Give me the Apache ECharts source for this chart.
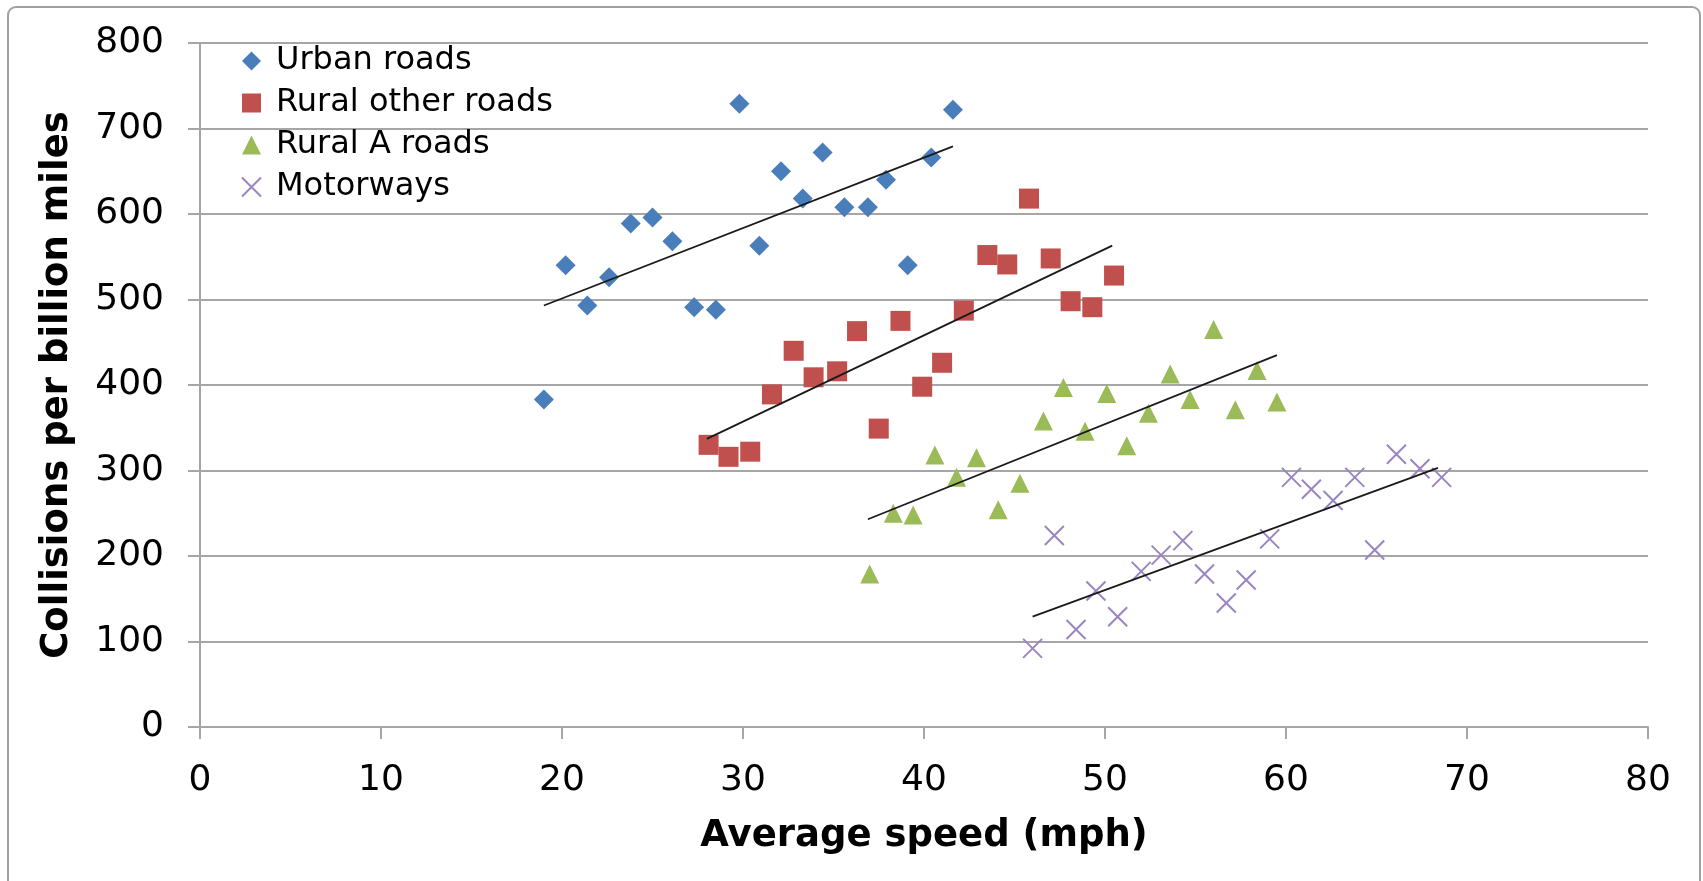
<!DOCTYPE html>
<html>
<head>
<meta charset="utf-8">
<script src="https://cdn.jsdelivr.net/npm/echarts@6/dist/echarts.min.js"></script>
<style>
  html, body { margin: 0; padding: 0; background: #fff; }
  #chart { width: 1703px; height: 881px; }
</style>
</head>
<body>
<div id="chart"></div>
<script>
// speeds (mph) and collision rates (per billion miles)
var urbanSpeed = [19.0, 20.2, 21.4, 22.6, 23.8, 25.0, 26.1, 27.3, 28.5, 29.8, 30.9, 32.1, 33.3, 34.4, 35.6, 36.9, 37.9, 39.1, 40.4, 41.6];
var urbanRate = [383, 540, 493, 526, 589, 596, 568, 491, 488, 729, 563, 650, 618, 672, 608, 608, 640, 540, 666, 722];

var ruralOtherSpeed = [28.1, 29.2, 30.4, 31.6, 32.8, 33.9, 35.2, 36.3, 37.5, 38.7, 39.9, 41.0, 42.2, 43.5, 44.6, 45.8, 47.0, 48.1, 49.3, 50.5];
var ruralOtherRate = [330, 316, 322, 389, 440, 409, 416, 463, 349, 475, 398, 426, 487, 552, 541, 618, 548, 498, 491, 528];

var ruralASpeed = [37.0, 38.3, 39.4, 40.6, 41.8, 42.9, 44.1, 45.3, 46.6, 47.7, 48.9, 50.1, 51.2, 52.4, 53.6, 54.7, 56.0, 57.2, 58.4, 59.5];
var ruralARate = [179, 250, 248, 318, 292, 315, 254, 285, 358, 397, 346, 390, 329, 367, 413, 383, 465, 371, 417, 380];

var motorwaySpeed = [46.0, 47.2, 48.4, 49.5, 50.7, 52.0, 53.1, 54.3, 55.5, 56.7, 57.8, 59.1, 60.3, 61.4, 62.6, 63.8, 64.9, 66.1, 67.4, 68.6];
var motorwayRate = [92, 224, 114, 159, 129, 182, 201, 218, 179, 145, 172, 220, 292, 278, 265, 292, 207, 319, 302, 292];

// trend line end points [speed, rate]
var urbanTrend = [[19.0, 493], [41.6, 679]];
var ruralOtherTrend = [[28.0, 337], [50.4, 563]];
var ruralATrend = [[36.9, 243], [59.5, 435]];
var motorwayTrend = [[46.0, 129], [68.4, 303]];

var seriesNames = ["Urban roads", "Rural other roads", "Rural A roads", "Motorways"];

function zip(xs, ys) {
  return xs.map(function (x, i) { return [x, ys[i]]; });
}

var font = "DejaVu Sans";
var gridColor = "#a6a6a6";

function trend(name, data) {
  return {
    name: name,
    type: "line",
    data: data,
    symbol: "none",
    z: 5,
    lineStyle: { color: "#1a1a1a", width: 1.8 },
    silent: true,
  };
}

var option = {
  animation: false,
  backgroundColor: "#fff",
  graphic: [
    {
      type: "rect",
      shape: { x: 8, y: 7, width: 1692, height: 900, r: 8 },
      style: { fill: "none", stroke: "#a0a0a0", lineWidth: 2 },
      silent: true,
    },
  ],
  grid: { left: 200, right: 55, top: 43, bottom: 154 },
  legend: {
    orient: "vertical",
    left: 236,
    top: 40,
    itemWidth: 19,
    itemHeight: 19,
    itemGap: 10,
    data: seriesNames,
    textStyle: {
      fontFamily: font,
      fontSize: 32,
      color: "#000",
      lineHeight: 30,
      padding: [0, 0, 0, 10],
    },
  },
  xAxis: {
    type: "value",
    min: 0,
    max: 80,
    interval: 10,
    name: "Average speed (mph)",
    nameLocation: "middle",
    nameGap: 91,
    nameTextStyle: { fontFamily: font, fontSize: 37, fontWeight: "bold", color: "#000" },
    axisLine: { show: true, lineStyle: { color: gridColor, width: 2 } },
    axisTick: { show: true, length: 12, lineStyle: { color: gridColor, width: 2 } },
    axisLabel: { fontFamily: font, fontSize: 36, color: "#000", margin: 36 },
    splitLine: { show: false },
  },
  yAxis: {
    type: "value",
    min: 0,
    max: 800,
    interval: 100,
    name: "Collisions per billion miles",
    nameLocation: "middle",
    nameGap: 124,
    nameTextStyle: { fontFamily: font, fontSize: 37, fontWeight: "bold", color: "#000" },
    axisLine: { show: true, lineStyle: { color: gridColor, width: 2 } },
    axisTick: { show: true, length: 12, lineStyle: { color: gridColor, width: 2 } },
    axisLabel: { fontFamily: font, fontSize: 36, color: "#000", margin: 36 },
    splitLine: { show: true, lineStyle: { color: gridColor, width: 2 } },
  },
  series: [
    {
      name: "Urban roads",
      type: "scatter",
      symbol: "diamond",
      symbolSize: [20, 20],
      itemStyle: { color: "#4a7ebb", opacity: 1 },
      data: zip(urbanSpeed, urbanRate),
    },
    {
      name: "Rural other roads",
      type: "scatter",
      symbol: "rect",
      symbolSize: 20,
      itemStyle: { color: "#c0504d", opacity: 1 },
      data: zip(ruralOtherSpeed, ruralOtherRate),
    },
    {
      name: "Rural A roads",
      type: "scatter",
      symbol: "triangle",
      symbolSize: 19,
      itemStyle: { color: "#9bbb59", opacity: 1 },
      data: zip(ruralASpeed, ruralARate),
    },
    {
      name: "Motorways",
      type: "scatter",
      symbol: "path://M0,0L10,10M10,0L0,10",
      symbolSize: 19,
      itemStyle: { color: "transparent", borderColor: "#9985c0", borderWidth: 2, opacity: 1 },
      data: zip(motorwaySpeed, motorwayRate),
    },
    trend("urbanTrend", urbanTrend),
    trend("ruralOtherTrend", ruralOtherTrend),
    trend("ruralATrend", ruralATrend),
    trend("motorwayTrend", motorwayTrend),
  ],
};

var chart = echarts.init(document.getElementById("chart"));
chart.setOption(option);
</script>
</body>
</html>
